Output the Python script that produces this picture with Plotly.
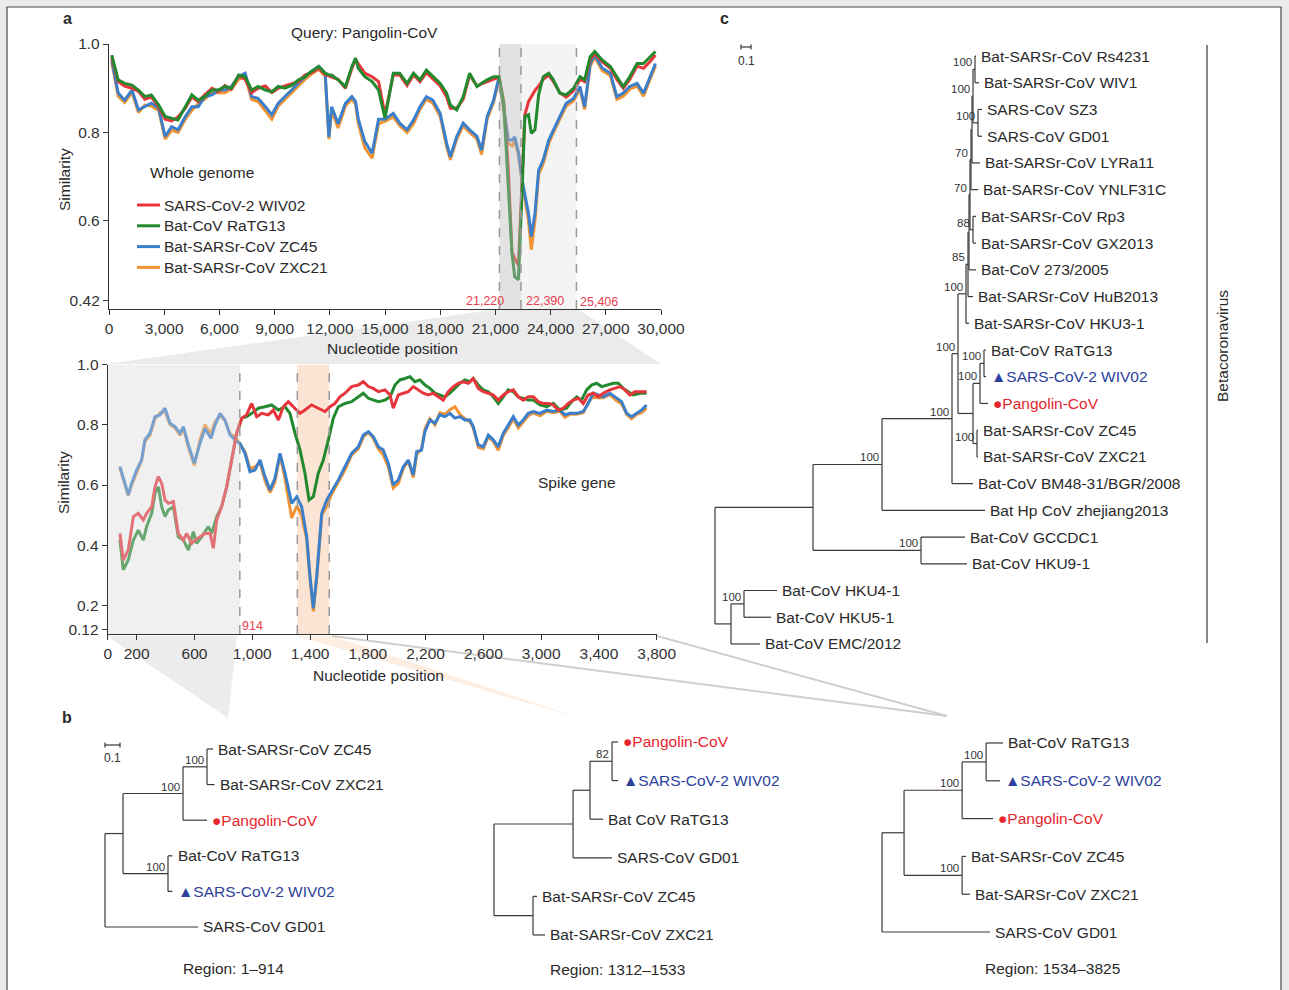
import plotly.graph_objects as go

W, H = 1289, 990
def PX(x): return x / W
def PY(y): return 1 - y / H

FONT = "Liberation Sans, Arial, Helvetica, sans-serif"
TXT = "#2a2a2a"
RED = "#e8353b"
GREEN = "#23892f"
BLUE = "#3b7fca"
ORANGE = "#f39333"
LABEL_RED = "#e84050"
TREE_BLUE = "#2c3f9c"
TREE_RED = "#e5262e"

# ---------------- data: panel a, whole genome ----------------
TOP_POS = [150, 500, 850, 1250, 1600, 1950, 2300, 2700, 3050, 3400,
           3750, 4150, 4500, 4850, 5200, 5600, 5950, 6300, 6650, 7050,
           7400, 7750, 8100, 8500, 8850, 9200, 9550, 9950, 10300, 10650,
           11000, 11400, 11750, 11950, 12100, 12450, 12850, 13200, 13400, 13550,
           13900, 14300, 14650, 15000, 15450, 15800, 16200, 16550, 16900, 17250,
           17600, 18000, 18350, 18550, 18900, 19250, 19600, 20000, 20250, 20550,
           20900, 21200, 21450, 21700, 21900, 22050, 22250, 22450, 22600, 22800,
           22950, 23150, 23350, 23600, 23900, 24150, 24500, 24850, 25250, 25600,
           25850, 26150, 26400, 26800, 27250, 27600, 27950, 28300, 28700, 29050,
           29400, 29700]
TOP_RATG13 = [0.975, 0.919, 0.911, 0.907, 0.896, 0.881, 0.885, 0.862, 0.836, 0.832,
              0.828, 0.858, 0.885, 0.873, 0.881, 0.896, 0.896, 0.904, 0.900, 0.930,
              0.926, 0.896, 0.904, 0.896, 0.892, 0.904, 0.900, 0.907, 0.919, 0.926,
              0.938, 0.949, 0.934, 0.930, 0.930, 0.919, 0.904, 0.949, 0.968, 0.945,
              0.926, 0.915, 0.896, 0.832, 0.934, 0.934, 0.911, 0.934, 0.919, 0.941,
              0.926, 0.911, 0.889, 0.862, 0.851, 0.881, 0.934, 0.904, 0.911, 0.919,
              0.926, 0.926, 0.866, 0.693, 0.527, 0.474, 0.467, 0.670, 0.836, 0.840,
              0.798, 0.806, 0.885, 0.926, 0.934, 0.919, 0.889, 0.885, 0.900, 0.926,
              0.919, 0.971, 0.983, 0.964, 0.949, 0.926, 0.904, 0.926, 0.956, 0.956,
              0.971, 0.983]
TOP_WIV02 = [0.970, 0.915, 0.905, 0.900, 0.893, 0.875, 0.880, 0.858, 0.830, 0.826,
             0.835, 0.855, 0.880, 0.870, 0.885, 0.900, 0.893, 0.906, 0.898, 0.928,
             0.920, 0.890, 0.900, 0.905, 0.890, 0.900, 0.905, 0.910, 0.915, 0.930,
             0.935, 0.945, 0.930, 0.928, 0.925, 0.920, 0.900, 0.945, 0.965, 0.955,
             0.934, 0.926, 0.915, 0.840, 0.930, 0.930, 0.906, 0.930, 0.915, 0.935,
             0.920, 0.905, 0.880, 0.855, 0.855, 0.875, 0.930, 0.905, 0.910, 0.915,
             0.920, 0.925, 0.870, 0.720, 0.530, 0.515, 0.500, 0.700, 0.840, 0.870,
             0.880, 0.895, 0.905, 0.920, 0.930, 0.915, 0.890, 0.880, 0.895, 0.920,
             0.915, 0.965, 0.978, 0.960, 0.945, 0.920, 0.900, 0.920, 0.950, 0.945,
             0.960, 0.975]
TOP_ZC45 = [0.964, 0.889, 0.873, 0.896, 0.851, 0.858, 0.866, 0.855, 0.791, 0.813,
            0.806, 0.836, 0.858, 0.858, 0.881, 0.885, 0.896, 0.896, 0.904, 0.926,
            0.934, 0.881, 0.877, 0.858, 0.840, 0.866, 0.881, 0.896, 0.911, 0.926,
            0.938, 0.949, 0.934, 0.790, 0.858, 0.820, 0.866, 0.881, 0.870, 0.830,
            0.780, 0.753, 0.830, 0.830, 0.843, 0.821, 0.806, 0.828, 0.858, 0.881,
            0.873, 0.843, 0.776, 0.745, 0.791, 0.821, 0.806, 0.791, 0.760, 0.836,
            0.873, 0.926, 0.858, 0.783, 0.783, 0.790, 0.756, 0.693, 0.660, 0.617,
            0.565, 0.617, 0.715, 0.738, 0.783, 0.806, 0.836, 0.866, 0.877, 0.904,
            0.858, 0.956, 0.975, 0.946, 0.934, 0.881, 0.889, 0.904, 0.911, 0.889,
            0.926, 0.956]
TOP_ZXC21 = [0.958, 0.882, 0.868, 0.890, 0.845, 0.862, 0.860, 0.850, 0.785, 0.805,
             0.800, 0.830, 0.850, 0.865, 0.875, 0.890, 0.890, 0.890, 0.898, 0.920,
             0.928, 0.875, 0.870, 0.850, 0.830, 0.860, 0.875, 0.890, 0.905, 0.920,
             0.932, 0.943, 0.928, 0.785, 0.850, 0.810, 0.860, 0.875, 0.865, 0.820,
             0.765, 0.742, 0.820, 0.825, 0.835, 0.815, 0.800, 0.820, 0.852, 0.875,
             0.866, 0.836, 0.768, 0.738, 0.785, 0.815, 0.800, 0.785, 0.750, 0.830,
             0.868, 0.920, 0.850, 0.775, 0.770, 0.780, 0.750, 0.685, 0.650, 0.600,
             0.535, 0.600, 0.705, 0.730, 0.775, 0.800, 0.830, 0.860, 0.872, 0.898,
             0.852, 0.950, 0.970, 0.940, 0.928, 0.875, 0.882, 0.898, 0.905, 0.882,
             0.920, 0.950]

# ---------------- data: panel a, spike gene ----------------
SP_ZC_POS = [84, 119, 142, 165, 200, 234, 257, 292, 327, 361,
             396, 431, 465, 500, 523, 558, 599, 638, 673, 714,
             742, 777, 811, 846, 881, 915, 950, 984, 1019, 1054,
             1088, 1123, 1157, 1192, 1227, 1273, 1308, 1342, 1377, 1400,
             1423, 1446, 1481, 1515, 1550, 1596, 1642, 1688, 1734, 1769,
             1804, 1838, 1873, 1907, 1942, 1976, 2011, 2046, 2080, 2115,
             2138, 2172, 2195, 2230, 2265, 2299, 2334, 2369, 2403, 2438,
             2472, 2507, 2530, 2565, 2599, 2634, 2669, 2703, 2738, 2772,
             2807, 2842, 2876, 2911, 2946, 2992, 3038, 3084, 3130, 3165,
             3199, 3246, 3292, 3326, 3361, 3396, 3430, 3476, 3522, 3557,
             3592, 3626, 3661, 3696, 3730]
SP_ZC45 = [0.661, 0.606, 0.567, 0.606, 0.650, 0.683, 0.750, 0.772, 0.827, 0.833,
           0.855, 0.805, 0.794, 0.772, 0.794, 0.733, 0.672, 0.738, 0.788, 0.755,
           0.799, 0.838, 0.816, 0.766, 0.750, 0.738, 0.705, 0.644, 0.650, 0.683,
           0.628, 0.583, 0.622, 0.705, 0.639, 0.539, 0.561, 0.528, 0.428, 0.295,
           0.190, 0.295, 0.506, 0.550, 0.578, 0.617, 0.661, 0.705, 0.727, 0.766,
           0.777, 0.761, 0.727, 0.716, 0.672, 0.600, 0.617, 0.661, 0.683, 0.633,
           0.711, 0.716, 0.777, 0.816, 0.805, 0.833, 0.827, 0.838, 0.822, 0.827,
           0.816, 0.816, 0.794, 0.733, 0.727, 0.766, 0.750, 0.727, 0.772, 0.799,
           0.827, 0.799, 0.816, 0.838, 0.844, 0.838, 0.849, 0.844, 0.849, 0.833,
           0.838, 0.838, 0.844, 0.871, 0.905, 0.899, 0.893, 0.905, 0.888, 0.877,
           0.838, 0.827, 0.838, 0.849, 0.866]
SP_ZXC21 = [0.655, 0.600, 0.565, 0.600, 0.640, 0.680, 0.745, 0.765, 0.820, 0.840,
            0.845, 0.800, 0.790, 0.765, 0.790, 0.725, 0.665, 0.750, 0.800, 0.770,
            0.810, 0.830, 0.815, 0.770, 0.760, 0.735, 0.710, 0.655, 0.660, 0.675,
            0.615, 0.575, 0.610, 0.700, 0.620, 0.490, 0.530, 0.500, 0.420, 0.290,
            0.180, 0.290, 0.500, 0.530, 0.570, 0.610, 0.650, 0.700, 0.720, 0.760,
            0.775, 0.755, 0.720, 0.700, 0.660, 0.590, 0.605, 0.655, 0.680, 0.625,
            0.700, 0.720, 0.785, 0.820, 0.800, 0.840, 0.835, 0.850, 0.860, 0.835,
            0.820, 0.810, 0.790, 0.725, 0.720, 0.760, 0.745, 0.715, 0.765, 0.790,
            0.820, 0.790, 0.810, 0.830, 0.840, 0.830, 0.845, 0.840, 0.845, 0.825,
            0.835, 0.835, 0.840, 0.875, 0.895, 0.890, 0.890, 0.900, 0.880, 0.870,
            0.835, 0.820, 0.835, 0.840, 0.855]
SP_WIV02_POS = [84, 107, 142, 177, 211, 246, 269, 304, 327, 350,
                373, 396, 419, 454, 488, 523, 546, 581, 604, 638,
                673, 708, 731, 754, 788, 823, 857, 892, 927, 961,
                996, 1031, 1065, 1111, 1146, 1181, 1215, 1250, 1284, 1331,
                1365, 1411, 1457, 1504, 1538, 1573, 1607, 1642, 1688, 1734,
                1769, 1804, 1838, 1873, 1919, 1954, 1976, 2011, 2046, 2080,
                2115, 2149, 2184, 2219, 2253, 2288, 2322, 2357, 2392, 2426,
                2461, 2496, 2530, 2565, 2599, 2634, 2669, 2703, 2738, 2772,
                2807, 2842, 2876, 2911, 2946, 2980, 3015, 3049, 3084, 3119,
                3153, 3188, 3222, 3257, 3292, 3326, 3361, 3396, 3430, 3476,
                3511, 3546, 3580, 3615, 3649, 3684, 3730]
SP_WIV02 = [0.439, 0.351, 0.384, 0.495, 0.506, 0.484, 0.506, 0.528, 0.594, 0.628,
            0.606, 0.550, 0.539, 0.545, 0.439, 0.417, 0.439, 0.406, 0.417, 0.428,
            0.439, 0.439, 0.390, 0.484, 0.528, 0.594, 0.683, 0.772, 0.822, 0.833,
            0.871, 0.827, 0.838, 0.833, 0.849, 0.816, 0.860, 0.877, 0.860, 0.838,
            0.849, 0.866, 0.855, 0.844, 0.860, 0.871, 0.893, 0.905, 0.927, 0.932,
            0.943, 0.927, 0.921, 0.910, 0.916, 0.899, 0.855, 0.899, 0.905, 0.910,
            0.927, 0.916, 0.905, 0.899, 0.905, 0.893, 0.882, 0.910, 0.927, 0.938,
            0.943, 0.938, 0.954, 0.921, 0.910, 0.905, 0.899, 0.882, 0.899, 0.910,
            0.916, 0.893, 0.882, 0.893, 0.893, 0.877, 0.871, 0.871, 0.866, 0.849,
            0.855, 0.871, 0.882, 0.888, 0.871, 0.899, 0.905, 0.893, 0.905, 0.916,
            0.921, 0.927, 0.916, 0.899, 0.910, 0.910, 0.910]
SP_RATG13_POS = [84, 107, 142, 177, 211, 246, 269, 304, 327, 350,
                 373, 396, 419, 454, 488, 523, 558, 592, 615, 650,
                 696, 719, 754, 788, 823, 857, 892, 927, 961, 996,
                 1042, 1088, 1134, 1181, 1227, 1261, 1296, 1331, 1365, 1393,
                 1423, 1457, 1492, 1527, 1561, 1596, 1642, 1688, 1734, 1769,
                 1804, 1838, 1873, 1919, 1954, 1988, 2022, 2057, 2092, 2126,
                 2161, 2196, 2230, 2265, 2299, 2334, 2369, 2403, 2438, 2472,
                 2507, 2530, 2565, 2599, 2634, 2669, 2703, 2738, 2772, 2807,
                 2842, 2876, 2911, 2946, 2992, 3038, 3084, 3130, 3176, 3211,
                 3246, 3280, 3315, 3349, 3384, 3419, 3453, 3499, 3534, 3569,
                 3603, 3638, 3684, 3730]
SP_RATG13 = [0.417, 0.318, 0.351, 0.417, 0.450, 0.417, 0.462, 0.506, 0.572, 0.594,
             0.528, 0.495, 0.517, 0.528, 0.428, 0.417, 0.384, 0.445, 0.406, 0.428,
             0.462, 0.439, 0.495, 0.528, 0.594, 0.683, 0.772, 0.822, 0.827, 0.838,
             0.855, 0.860, 0.866, 0.849, 0.860, 0.838, 0.772, 0.716, 0.639, 0.550,
             0.561, 0.639, 0.683, 0.750, 0.822, 0.860, 0.871, 0.877, 0.893, 0.905,
             0.888, 0.882, 0.877, 0.882, 0.893, 0.932, 0.949, 0.954, 0.960, 0.943,
             0.949, 0.932, 0.921, 0.905, 0.899, 0.893, 0.905, 0.921, 0.938, 0.949,
             0.943, 0.954, 0.932, 0.916, 0.910, 0.893, 0.871, 0.893, 0.916, 0.910,
             0.893, 0.888, 0.882, 0.882, 0.866, 0.860, 0.871, 0.849, 0.855, 0.877,
             0.893, 0.882, 0.916, 0.932, 0.938, 0.927, 0.932, 0.938, 0.938, 0.921,
             0.910, 0.899, 0.905, 0.905]

TOP_XTICKS = [0, 3000, 6000, 9000, 12000, 15000, 18000, 21000, 24000, 27000, 30000]
TOP_YTICKS = [0.42, 0.6, 0.8, 1.0]
SP_XTICKS = [0, 200, 600, 1000, 1400, 1800, 2200, 2600, 3000, 3400, 3800]
SP_YTICKS = [0.12, 0.2, 0.4, 0.6, 0.8, 1.0]
TOP_BREAKS = [21220, 22390, 25406]
SP_BREAKS = [914, 1312, 1533]

# ---------------- data: trees (branch lengths, support) ----------------
RW = ([("Bat-SARSr-CoV Rs4231", 0.01), ("Bat-SARSr-CoV WIV1", 0.04)], 0.02, "100")
SG = ([("SARS-CoV SZ3", 0.04), ("SARS-CoV GD01", 0.04)], 0.05, "100")
S7 = ([RW, SG], 0.01, "100")
S6 = ([S7, ("Bat-SARSr-CoV LYRa11", 0.08)], 0.01, None)
S5 = ([S6, ("Bat-SARSr-CoV YNLF31C", 0.07)], 0.01, "70")
RG = ([("Bat-SARSr-CoV Rp3", 0.03), ("Bat-SARSr-CoV GX2013", 0.03)], 0.03, "88")
S4 = ([S5, RG], 0.01, "70")
S3 = ([S4, ("Bat-CoV 273/2005", 0.07)], 0.01, None)
S2 = ([S3, ("Bat-SARSr-CoV HuB2013", 0.05)], 0.02, "85")
S1 = ([S2, ("Bat-SARSr-CoV HKU3-1", 0.03)], 0.08, "100")
C3 = ([("Bat-CoV RaTG13", 0.02), ("SARS-CoV-2 WIV02", 0.02)], 0.04, "100")
C2 = ([C3, ("Pangolin-CoV", 0.08)], 0.07, "100")
C4 = ([("Bat-SARSr-CoV ZC45", 0.01), ("Bat-SARSr-CoV ZXC21", 0.01)], 0.04, "100")
C1 = ([C2, C4], 0.15, None)
N5 = ([S1, C1], 0.06, "100")
N4 = ([N5, ("Bat-CoV BM48-31/BGR/2008", 0.21)], 0.70, "100")
N2 = ([N4, ("Bat Hp CoV zhejiang2013", 1.03)], 0.69, "100")
N3 = ([("Bat-CoV GCCDC1", 0.44), ("Bat-CoV HKU9-1", 0.46)], 1.08, "100")
N1 = ([N2, N3], 0.98, None)
M2 = ([("Bat-CoV HKU4-1", 0.33), ("Bat-CoV HKU5-1", 0.27)], 0.13, "100")
M1 = ([M2, ("Bat-CoV EMC/2012", 0.29)], 0.16, None)
TREE_C = ([N1, M1], 0.0, None)

TREE_R1 = ([
    ([
        ([
            ([("Bat-SARSr-CoV ZC45", 0.04), ("Bat-SARSr-CoV ZXC21", 0.05)], 0.16, "100"),
            ("Pangolin-CoV", 0.16),
        ], 0.40, "100"),
        ([("Bat-CoV RaTG13", 0.03), ("SARS-CoV-2 WIV02", 0.03)], 0.30, "100"),
    ], 0.12, None),
    ("SARS-CoV GD01", 0.62),
], 0.0, None)

TREE_R2 = ([
    ([
        ([
            ([("Pangolin-CoV", 0.04), ("SARS-CoV-2 WIV02", 0.04)], 0.147, "82"),
            ("Bat CoV RaTG13", 0.087),
        ], 0.113, None),
        ("SARS-CoV GD01", 0.26),
    ], 0.527, None),
    ([("Bat-SARSr-CoV ZC45", 0.027), ("Bat-SARSr-CoV ZXC21", 0.08)], 0.26, None),
], 0.0, None)

TREE_R3 = ([
    ([
        ([
            ([("Bat-CoV RaTG13", 0.113), ("SARS-CoV-2 WIV02", 0.093)], 0.16, "100"),
            ("Pangolin-CoV", 0.207),
        ], 0.387, "100"),
        ([("Bat-SARSr-CoV ZC45", 0.027), ("Bat-SARSr-CoV ZXC21", 0.053)], 0.387, "100"),
    ], 0.147, None),
    ("SARS-CoV GD01", 0.72),
], 0.0, None)

SPECIAL = {"Pangolin-CoV": ("\u25CF", TREE_RED), "SARS-CoV-2 WIV02": ("\u25B2", TREE_BLUE)}


def build_tree(tree):
    sx, sy, leaves, sups = [], [], [], []
    counter = [0]

    def walk(node, xp):
        if isinstance(node[0], str):
            name, bl = node
            x = xp + bl
            y = counter[0]
            counter[0] += 1
            sx.extend([xp, x, None]); sy.extend([y, y, None])
            leaves.append((name, x, y))
            return y
        children, bl, sup = node
        x = xp + bl
        ys = [walk(c, x) for c in children]
        y = (ys[0] + ys[-1]) / 2
        sx.extend([x, x, None]); sy.extend([ys[0], ys[-1], None])
        if bl > 0:
            sx.extend([xp, x, None]); sy.extend([y, y, None])
        if sup:
            sups.append((sup, x, y))
        return y

    walk(tree, 0.0)
    return sx, sy, leaves, sups


fig = go.Figure()
annotations = []
shapes = []

# page frame (open at the bottom, like the cropped page in the reference)
shapes.append(dict(type="rect", xref="paper", yref="paper", x0=PX(7), x1=PX(1281), y0=PY(1010), y1=PY(7),
                   fillcolor="white", line=dict(color="#4a4a4a", width=1.2), layer="below"))

def poly(pts):
    return "M " + " L ".join(f"{PX(x)},{PY(y)}" for x, y in pts) + " Z"

shapes.append(dict(type="path", xref="paper", yref="paper",
                   path=poly([(499, 309), (578, 309), (661, 364), (107, 364)]),
                   fillcolor="#ebebeb", line=dict(width=0), layer="below"))
shapes.append(dict(type="path", xref="paper", yref="paper",
                   path=poly([(107, 636), (237, 636), (228, 718)]),
                   fillcolor="#ececec", line=dict(width=0), layer="below"))
shapes.append(dict(type="path", xref="paper", yref="paper",
                   path=poly([(297, 636), (332, 636), (580, 718)]),
                   fillcolor="rgba(250,205,170,0.35)", line=dict(width=0), layer="below"))
for (xs, ys) in [(332, 636), (657, 636)]:
    shapes.append(dict(type="line", xref="paper", yref="paper", x0=PX(xs), y0=PY(ys), x1=PX(947), y1=PY(716),
                       line=dict(color="#cfcfcf", width=2), layer="below"))

# ---------- top chart ----------
shapes.append(dict(type="rect", xref="x", yref="y", x0=TOP_BREAKS[1], x1=TOP_BREAKS[2], y0=0.401, y1=1.0,
                   fillcolor="#f4f4f4", line=dict(width=0), layer="below"))
for name, vals, col in [("Bat-SARSr-CoV ZXC21", TOP_ZXC21, ORANGE), ("Bat-SARSr-CoV ZC45", TOP_ZC45, BLUE),
                        ("SARS-CoV-2 WIV02", TOP_WIV02, RED), ("Bat-CoV RaTG13", TOP_RATG13, GREEN)]:
    fig.add_trace(go.Scatter(x=TOP_POS, y=vals, mode="lines", name=name, line=dict(color=col, width=3),
                             xaxis="x", yaxis="y", showlegend=False, hoverinfo="skip"))
shapes.append(dict(type="rect", xref="x", yref="y", x0=TOP_BREAKS[0], x1=TOP_BREAKS[1], y0=0.401, y1=1.0,
                   fillcolor="rgba(185,185,185,0.42)", line=dict(width=0), layer="above"))
for b in TOP_BREAKS:
    shapes.append(dict(type="line", xref="x", yref="y", x0=b, x1=b, y0=0.401, y1=1.0,
                       line=dict(color="#9a9a9a", width=1.5, dash="dash"), layer="above"))

# ---------- spike chart ----------
shapes.append(dict(type="rect", xref="x2", yref="y2", x0=SP_BREAKS[1], x1=SP_BREAKS[2], y0=0.105, y1=1.0,
                   fillcolor="#fbe4d4", line=dict(width=0), layer="below"))
for name, xs, vals, col in [("Bat-SARSr-CoV ZXC21", SP_ZC_POS, SP_ZXC21, ORANGE),
                            ("Bat-SARSr-CoV ZC45", SP_ZC_POS, SP_ZC45, BLUE),
                            ("Bat-CoV RaTG13", SP_RATG13_POS, SP_RATG13, GREEN),
                            ("SARS-CoV-2 WIV02", SP_WIV02_POS, SP_WIV02, RED)]:
    fig.add_trace(go.Scatter(x=xs, y=vals, mode="lines", name=name, line=dict(color=col, width=3),
                             xaxis="x2", yaxis="y2", showlegend=False, hoverinfo="skip"))
shapes.append(dict(type="rect", xref="x2", yref="y2", x0=0, x1=SP_BREAKS[0], y0=0.105, y1=1.0,
                   fillcolor="rgba(215,215,215,0.38)", line=dict(width=0), layer="above"))
for b in SP_BREAKS:
    shapes.append(dict(type="line", xref="x2", yref="y2", x0=b, x1=b, y0=0.105, y1=1.0,
                       line=dict(color="#9a9a9a", width=1.5, dash="dash"), layer="above"))

# ---------- trees ----------
TREES = [(TREE_C, "x3", "y3"), (TREE_R1, "x4", "y4"), (TREE_R2, "x5", "y5"), (TREE_R3, "x6", "y6")]
for tree, xa, ya in TREES:
    sx, sy, leaves, sups = build_tree(tree)
    fig.add_trace(go.Scatter(x=sx, y=sy, mode="lines", line=dict(color="#3a3a3a", width=1.2),
                             xaxis=xa, yaxis=ya, showlegend=False, hoverinfo="skip"))
    for name, x, y in leaves:
        if name in SPECIAL:
            g, c = SPECIAL[name]
            txt = f"{g}{name}"
            col = c
        else:
            txt = name
            col = TXT
        annotations.append(dict(x=x, y=y, xref=xa, yref=ya, text=txt, showarrow=False, xanchor="left",
                                yanchor="middle", xshift=3, font=dict(size=15.5, color=col, family=FONT)))
    for s, x, y in sups:
        annotations.append(dict(x=x, y=y, xref=xa, yref=ya, text=s, showarrow=False, xanchor="right",
                                yanchor="bottom", xshift=-1, yshift=-1, font=dict(size=11.5, color="#333", family=FONT)))

def scalebar(xa, x0, x1, py, label_py):
    shapes.append(dict(type="line", xref=xa, yref="paper", x0=x0, x1=x1, y0=PY(py), y1=PY(py),
                       line=dict(color="#333", width=1.2)))
    for xx in (x0, x1):
        shapes.append(dict(type="line", xref=xa, yref="paper", x0=xx, x1=xx, y0=PY(py - 2.5), y1=PY(py + 2.5),
                           line=dict(color="#333", width=1.2)))
    annotations.append(dict(x=(x0 + x1) / 2, y=PY(label_py), xref=xa, yref="paper", text="0.1", showarrow=False,
                            xanchor="center", yanchor="middle", font=dict(size=12, color="#333", family=FONT)))

scalebar("x3", 0.26, 0.36, 47, 61)
scalebar("x4", 0.0, 0.1, 745, 758)

shapes.append(dict(type="line", xref="paper", yref="paper", x0=PX(1207), x1=PX(1207), y0=PY(45), y1=PY(643),
                   line=dict(color="#333", width=1.2)))

def note(x, y, text, size=15.5, color=TXT, xanchor="center", yanchor="middle", angle=0, bold=False):
    if bold:
        text = f"<b>{text}</b>"
    annotations.append(dict(x=PX(x), y=PY(y), xref="paper", yref="paper", text=text, showarrow=False,
                            xanchor=xanchor, yanchor=yanchor, textangle=angle,
                            font=dict(size=size, color=color, family=FONT)))

note(67, 18, "a", size=16, bold=True)
note(67, 717, "b", size=16, bold=True)
note(724, 18, "c", size=16, bold=True)
note(364, 33, "Query: Pangolin-CoV")
note(148, 172, "Whole genome", xanchor="left")
note(64, 180, "Similarity", angle=-90)
note(64, 483, "Similarity", angle=-90)
note(392, 349, "Nucleotide position")
note(378, 675, "Nucleotide position")
note(577, 482, "Spike gene")
note(506, 301, "21,220", size=12.5, color=LABEL_RED, xanchor="right")
note(524, 301, "22,390", size=12.5, color=LABEL_RED, xanchor="left")
note(578, 302, "25,406", size=12.5, color=LABEL_RED, xanchor="left")
note(240, 626, "914", size=12.5, color=LABEL_RED, xanchor="left")
note(1222, 346, "Betacoronavirus", angle=-90)
note(233, 968, "Region: 1\u2013914")
note(617, 969, "Region: 1312\u20131533")
note(1052, 968, "Region: 1534\u20133825")

LEGEND = [("SARS-CoV-2 WIV02", RED), ("Bat-CoV RaTG13", GREEN), ("Bat-SARSr-CoV ZC45", BLUE), ("Bat-SARSr-CoV ZXC21", ORANGE)]
for i, (name, col) in enumerate(LEGEND):
    yy = 205 + i * 20.8
    shapes.append(dict(type="line", xref="paper", yref="paper", x0=PX(137), x1=PX(160), y0=PY(yy), y1=PY(yy),
                       line=dict(color=col, width=3)))
    note(162, yy, name, xanchor="left")

axis_common = dict(showgrid=False, zeroline=False, showline=True, linecolor="#333", linewidth=1.3,
                   ticks="outside", ticklen=5, tickwidth=1.2, tickcolor="#333", automargin=False,
                   tickfont=dict(size=15.5, color="#333", family=FONT), fixedrange=True)
hidden = dict(visible=False, showgrid=False, zeroline=False, fixedrange=True, automargin=False)

layout = dict(
    width=W, height=H, autosize=False,
    margin=dict(l=0, r=0, t=0, b=0, pad=0, autoexpand=False),
    paper_bgcolor="#ebebeb", plot_bgcolor="rgba(0,0,0,0)",
    font=dict(family=FONT, size=15, color=TXT),
    showlegend=False,
    xaxis=dict(axis_common, domain=[PX(109), PX(661)], range=[0, 30000], anchor="y",
               tickvals=TOP_XTICKS, ticktext=[f"{v:,}" for v in TOP_XTICKS]),
    yaxis=dict(axis_common, domain=[PY(309), PY(44)], range=[0.401, 1.0], anchor="x",
               tickvals=TOP_YTICKS, ticktext=["0.42", "0.6", "0.8", "1.0"]),
    xaxis2=dict(axis_common, domain=[PX(107.8), PX(656.7)], range=[0, 3800], anchor="y2",
                tickvals=SP_XTICKS, ticktext=[f"{v:,}" for v in SP_XTICKS]),
    yaxis2=dict(axis_common, domain=[PY(634), PY(364.6)], range=[0.105, 1.0], anchor="x2",
                tickvals=SP_YTICKS, ticktext=["0.12", "0.2", "0.4", "0.6", "0.8", "1.0"]),
    xaxis3=dict(hidden, domain=[PX(700), PX(1200)], range=[-0.15, 4.85], anchor="y3"),
    yaxis3=dict(hidden, domain=[PY(660), PY(40)], range=[22.6, -0.6], anchor="x3"),
    xaxis4=dict(hidden, domain=[PX(95), PX(460)], range=[-0.0667, 2.3667], anchor="y4"),
    yaxis4=dict(hidden, domain=[PY(945), PY(730)], range=[5.506, -0.534], anchor="x4"),
    xaxis5=dict(hidden, domain=[PX(480), PX(860)], range=[-0.0933, 2.44], anchor="y5"),
    yaxis5=dict(hidden, domain=[PY(950), PY(725)], range=[5.389, -0.440], anchor="x5"),
    xaxis6=dict(hidden, domain=[PX(870), PX(1270)], range=[-0.08, 2.5867], anchor="y6"),
    yaxis6=dict(hidden, domain=[PY(950), PY(725)], range=[5.476, -0.476], anchor="x6"),
    shapes=shapes,
    annotations=annotations,
)
fig.update_layout(**layout)

PAGE_JS = ("document.documentElement.style.margin='0';document.documentElement.style.padding='0';"
           "document.body.style.margin='0';document.body.style.padding='0';"
           "document.documentElement.style.overflow='hidden';document.body.style.overflow='hidden';")
fig.write_html("out.html", config={"displayModeBar": False}, post_script=PAGE_JS)
